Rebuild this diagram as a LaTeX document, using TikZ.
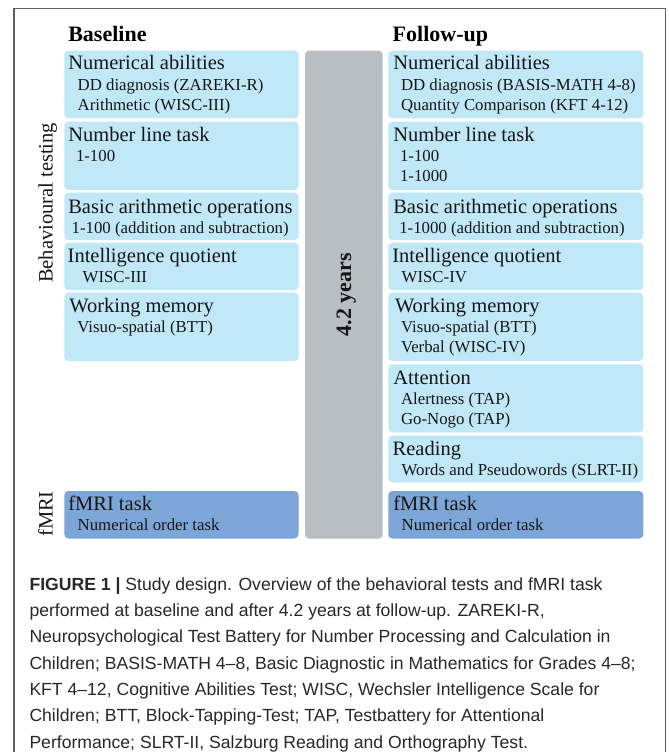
\documentclass[tikz,border=0pt]{standalone}
\usepackage{fontspec}
\setmainfont{Liberation Serif}
\newfontfamily\capfont{Liberation Sans}
\definecolor{lb}{RGB}{192,232,246}
\definecolor{fm}{RGB}{124,166,216}
\definecolor{gb}{RGB}{185,190,197}
\definecolor{fr}{RGB}{95,95,95}
\definecolor{tx}{RGB}{22,22,22}
\definecolor{ct}{RGB}{40,40,40}
\newcommand\mkbox[6]{\node[#6, anchor=north west, minimum width={(#4-#2)*1pt}, minimum height={(#5-#3)*1pt}] (#1) at (#2,#3) {};}
\begin{document}
\begin{tikzpicture}[x=1pt,y=-1pt,
  every node/.style={inner sep=0pt, outer sep=0pt},
  lbox/.style={fill=lb, rounded corners=4pt},
  fbox/.style={fill=fm, rounded corners=4pt},
  gbox/.style={fill=gb, rounded corners=4pt},
  hd/.style={text=tx, font=\fontsize{20.5}{24}\selectfont, anchor=base west},
  sb/.style={text=tx, font=\fontsize{16.8}{20}\selectfont, anchor=base west},
  ttl/.style={text=black, font=\fontsize{22}{26}\selectfont\bfseries, anchor=base west},
  side/.style={text=tx, font=\fontsize{20.5}{24}\selectfont, rotate=90, anchor=base},
  captxt/.style={text=ct, font=\capfont\fontsize{17.6}{22}\selectfont, anchor=base west}]
\useasboundingbox[fill=white] (0,0) rectangle (669,752);
% frame
\draw[fr, line width=1.3pt] (14,780) -- (14,8.3) -- (665.7,8.3) -- (665.7,780);
% titles
\node[ttl] (tb) at (68.3,41.7) {Baseline};
\node[ttl] (tf) at (392.7,41.7) {Follow-up};
% gray bar
\mkbox{gray}{305}{50.7}{382.7}{538.5}{gbox}
\node[text=tx, font=\fontsize{22}{26}\selectfont\bfseries, rotate=90, anchor=base] (yrs) at (351,294.7) {4.2 years};
% side labels
\node[side] (bt) at (52.7,203) {Behavioural testing};
\node[side] (fl) at (52.7,514) {fMRI};
% left boxes
\mkbox{L1}{64.3}{50.7}{298.5}{118.3}{lbox}
\mkbox{L2}{64.3}{121.7}{298.5}{190}{lbox}
\mkbox{L3}{64.3}{192.7}{298.5}{240}{lbox}
\mkbox{L4}{64.3}{242.7}{298.5}{290}{lbox}
\mkbox{L5}{64.3}{292.7}{298.5}{361}{lbox}
\mkbox{LF}{64.3}{491}{298.5}{538.5}{fbox}
% right boxes
\mkbox{R1}{388.3}{50.7}{643.3}{118.3}{lbox}
\mkbox{R2}{388.3}{121.7}{643.3}{190}{lbox}
\mkbox{R3}{388.3}{192.7}{643.3}{240}{lbox}
\mkbox{R4}{388.3}{242.7}{643.3}{290}{lbox}
\mkbox{R5}{388.3}{292.7}{643.3}{361}{lbox}
\mkbox{R6}{388.3}{364.3}{643.3}{432.3}{lbox}
\mkbox{R7}{388.3}{435.7}{643.3}{482.3}{lbox}
\mkbox{RF}{388.3}{491}{643.3}{538.5}{fbox}
% left texts
\node[hd] (l1h) at (68.3,70) {Numerical abilities};
\node[sb] (l1a) at (77.7,90.7) {DD diagnosis (ZAREKI-R)};
\node[sb] (l1b) at (77.7,110.7) {Arithmetic (WISC-III)};
\node[hd] (l2h) at (68.3,141.7) {Number line task};
\node[sb] (l2a) at (76,161.7) {1-100};
\node[hd] (l3h) at (68.3,213.3) {Basic arithmetic operations};
\node[sb] (l3a) at (71.7,233.3) {1-100 (addition and subtraction)};
\node[hd] (l4h) at (67.7,262.3) {Intelligence quotient};
\node[sb] (l4a) at (82.7,282.3) {WISC-III};
\node[hd] (l5h) at (69.3,312.7) {Working memory};
\node[sb] (l5a) at (77.3,332.7) {Visuo-spatial (BTT)};
\node[hd] (lfh) at (68.3,510.7) {fMRI task};
\node[sb] (lfa) at (77.7,530.7) {Numerical order task};
% right texts
\node[hd] (r1h) at (393.3,70) {Numerical abilities};
\node[sb] (r1a) at (401,90.7) {DD diagnosis (BASIS-MATH 4-8)};
\node[sb] (r1b) at (401,110.7) {Quantity Comparison (KFT 4-12)};
\node[hd] (r2h) at (393.3,141.7) {Number line task};
\node[sb] (r2a) at (400,161.7) {1-100};
\node[sb] (r2b) at (400,181.7) {1-1000};
\node[hd] (r3h) at (393.3,213.3) {Basic arithmetic operations};
\node[sb] (r3a) at (399.3,233.3) {1-1000 (addition and subtraction)};
\node[hd] (r4h) at (392.3,262.3) {Intelligence quotient};
\node[sb] (r4a) at (401.7,282.3) {WISC-IV};
\node[hd] (r5h) at (395,312.7) {Working memory};
\node[sb] (r5a) at (401,332.7) {Visuo-spatial (BTT)};
\node[sb] (r5b) at (401,352.5) {Verbal (WISC-IV)};
\node[hd] (r6h) at (393.3,384) {Attention};
\node[sb] (r6a) at (401,404.5) {Alertness (TAP)};
\node[sb] (r6b) at (401,424.5) {Go-Nogo (TAP)};
\node[hd] (r7h) at (392.7,455.5) {Reading};
\node[sb] (r7a) at (401.7,475.5) {Words and Pseudowords (SLRT-II)};
\node[hd] (rfh) at (393.3,510.7) {fMRI task};
\node[sb] (rfa) at (401.7,530.7) {Numerical order task};
% caption
\node[captxt] (c1) at (29.5,590) {\textbf{FIGURE 1 |} Study design. Overview of the behavioral tests and fMRI task};
\node[captxt] (c2) at (29.5,616.3) {performed at baseline and after 4.2 years at follow-up. ZAREKI-R,};
\node[captxt] (c3) at (29.5,642.7) {Neuropsychological Test Battery for Number Processing and Calculation in};
\node[captxt] (c4) at (29.5,669) {Children; BASIS-MATH 4–8, Basic Diagnostic in Mathematics for Grades 4–8;};
\node[captxt] (c5) at (29.5,695.3) {KFT 4–12, Cognitive Abilities Test; WISC, Wechsler Intelligence Scale for};
\node[captxt] (c6) at (29.5,721.7) {Children; BTT, Block-Tapping-Test; TAP, Testbattery for Attentional};
\node[captxt] (c7) at (29.5,748) {Performance; SLRT-II, Salzburg Reading and Orthography Test.};
\end{tikzpicture}
\end{document}
